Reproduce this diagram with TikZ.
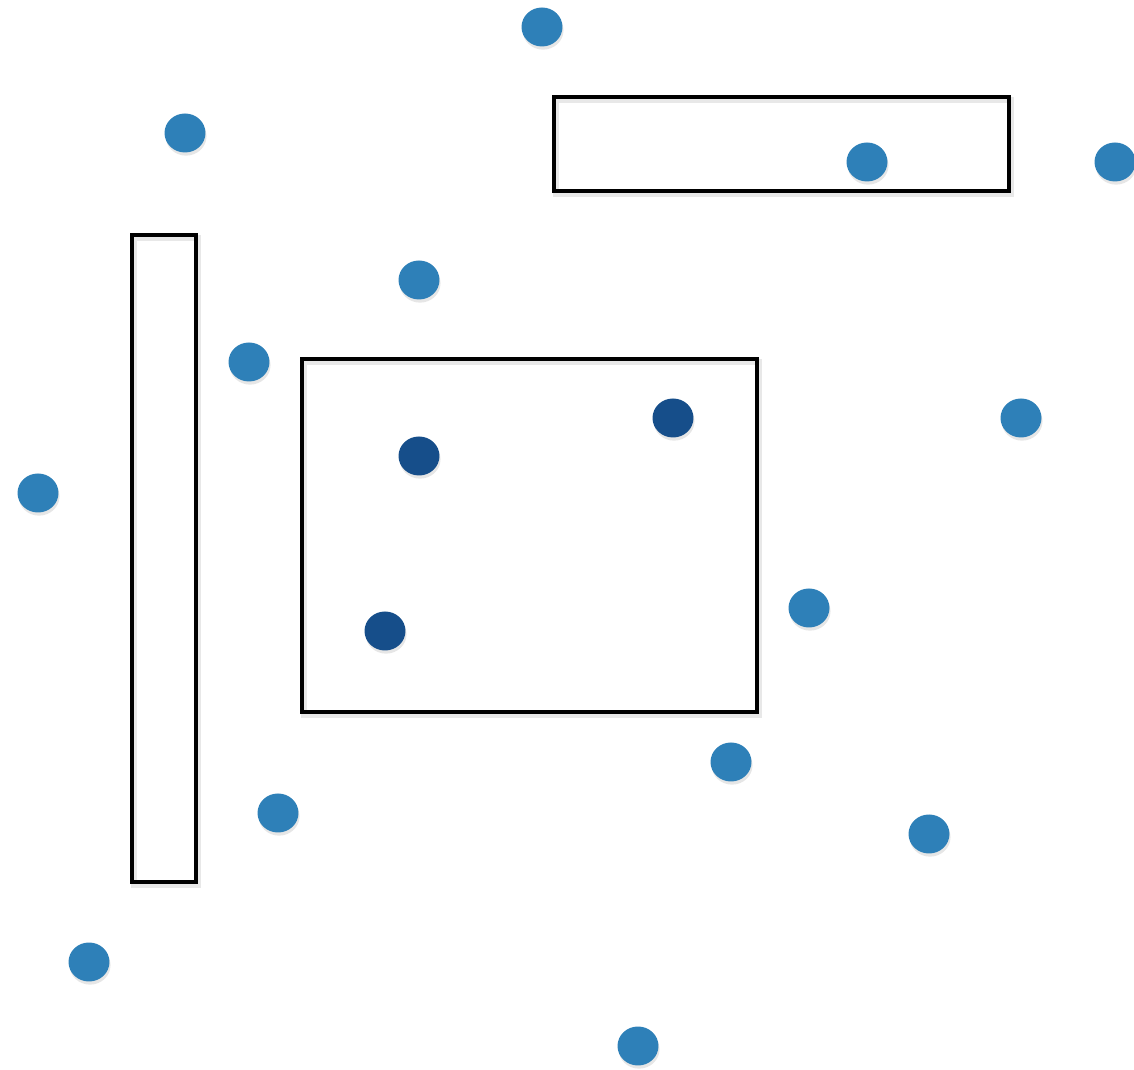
\documentclass[tikz,border=0pt]{standalone}
\usepackage{tikz}
\usetikzlibrary{shapes.geometric,shadows}
\definecolor{dotlight}{RGB}{46,128,184}
\definecolor{dotdark}{RGB}{22,78,138}
\tikzset{
  dot/.style={ellipse,fill=#1,draw=none,minimum width=0.82cm,minimum height=0.78cm,
    inner sep=0pt,drop shadow={opacity=0.2,shadow xshift=0.6pt,shadow yshift=-1.8pt}},
  dot/.default=dotlight,
  box/.style={draw=black,line width=2pt},
  boxshade/.style={draw=black!15,line width=3pt,opacity=0.6}
}

\begin{document}
\begin{tikzpicture}[x=0.02cm,y=-0.02cm]
\useasboundingbox (0,0) rectangle (1134,1070);

% Boxes
\draw[boxshade] (556,100) rectangle (1011,194);
\draw[box] (554,97) rectangle (1009,191);
\draw[boxshade] (134,238) rectangle (198,885);
\draw[box] (132,235) rectangle (196,882);
\draw[boxshade] (304,362) rectangle (759,715);
\draw[box] (302,359) rectangle (757,712);

% Light points
\foreach \n/\x/\y in {a/542/27, b/185/133, c/867/162, d/1115/162,
  e/419/280, f/249/362, g/38/493, h/1021/418, i/809/608,
  j/731/762, k/278/813, l/929/834, m/89/962, n/638/1046} {
  \node[dot] (p\n) at (\x,\y) {};
}

% Dark points
\foreach \n/\x/\y in {a/673/418, b/419/456, c/385/631} {
  \node[dot=dotdark] (q\n) at (\x,\y) {};
}
\end{tikzpicture}
\end{document}
